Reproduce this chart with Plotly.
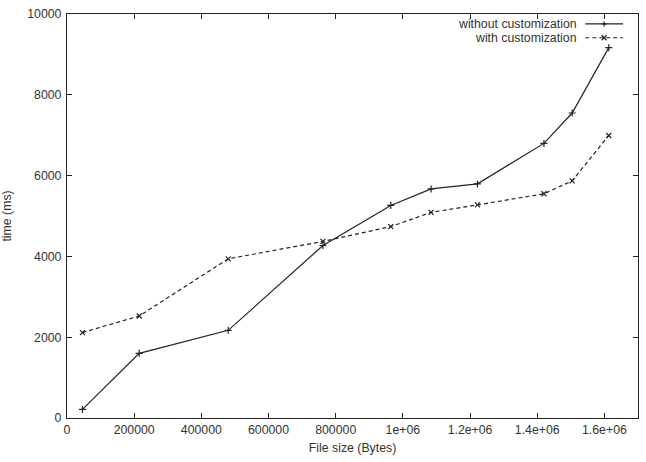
import plotly.graph_objects as go

file_size = [46000, 215000, 480000, 762000, 964000, 1084000, 1222000, 1420000, 1504000, 1613000]
time_without = [213, 1600, 2170, 4270, 5262, 5670, 5795, 6797, 7549, 9167]
time_with = [2115, 2525, 3940, 4370, 4738, 5090, 5275, 5550, 5870, 6993]

x_tickvals = [0, 200000, 400000, 600000, 800000, 1000000, 1200000, 1400000, 1600000]
x_ticktext = ["0", "200000", "400000", "600000", "800000", "1e+06", "1.2e+06", "1.4e+06", "1.6e+06"]
y_tickvals = [0, 2000, 4000, 6000, 8000, 10000]
y_ticktext = ["0", "2000", "4000", "6000", "8000", "10000"]
series_names = ["without customization", "with customization"]

W, H = 646, 462
ML, MR, MT, MB = 65, 7, 10, 44
PW, PH = W - ML - MR, H - MT - MB

FONT = "Liberation Sans, Arial, sans-serif"
FS = 12.3
LC = "#222222"
TC = "#333333"

fig = go.Figure()
fig.add_trace(go.Scatter(
    x=file_size, y=time_without, mode="lines+markers", name=series_names[0],
    line=dict(color=LC, width=1.2),
    marker=dict(symbol="cross-thin", size=5, line=dict(color=LC, width=1.2)),
    showlegend=False))
fig.add_trace(go.Scatter(
    x=file_size, y=time_with, mode="lines+markers", name=series_names[1],
    line=dict(color=LC, width=1.2, dash="4px,3px"),
    marker=dict(symbol="x-thin", size=5, line=dict(color=LC, width=1.2)),
    showlegend=False))

def px2paper(px, py):
    return (px - ML) / PW, (H - MB - py) / PH

shapes = []
annotations = []
rows = [(20, "solid", "plus"), (34, "dash", "x")]
for (py, dash, mk), name in zip(rows, series_names):
    x0, y0 = px2paper(586, py)
    x1, _ = px2paper(624, py)
    shapes.append(dict(type="line", xref="paper", yref="paper", x0=x0, x1=x1, y0=y0, y1=y0,
                       line=dict(color=LC, width=1.2, dash="solid" if dash == "solid" else "4px,3px")))
    cx, cy = 605, py
    r = 2.5
    if mk == "plus":
        segs = [((cx - r, cy), (cx + r, cy)), ((cx, cy - r), (cx, cy + r))]
    else:
        segs = [((cx - r, cy - r), (cx + r, cy + r)), ((cx - r, cy + r), (cx + r, cy - r))]
    for (ax, ay), (bx, by) in segs:
        a = px2paper(ax, ay)
        b = px2paper(bx, by)
        shapes.append(dict(type="line", xref="paper", yref="paper", x0=a[0], y0=a[1], x1=b[0], y1=b[1],
                           line=dict(color=LC, width=1.2)))
    tx, ty = px2paper(579, py)
    annotations.append(dict(text=name, xref="paper", yref="paper", x=tx, y=ty, xanchor="right",
                            yanchor="middle", showarrow=False, borderpad=0,
                            font=dict(family=FONT, size=FS, color=TC)))

axis_common = dict(showline=True, linecolor="#222", linewidth=1.2, mirror="allticks", ticks="inside",
                   ticklen=5, tickcolor="#222", tickwidth=1, showgrid=False, zeroline=False,
                   tickfont=dict(family=FONT, size=FS, color=TC))

fig.update_layout(
    width=W, height=H, margin=dict(l=ML, r=MR, t=MT, b=MB),
    paper_bgcolor="white", plot_bgcolor="white",
    xaxis=dict(range=[0, 1700000], tickvals=x_tickvals, ticktext=x_ticktext,
               title=dict(text="File size (Bytes)", font=dict(family=FONT, size=FS, color=TC), standoff=7),
               **axis_common),
    yaxis=dict(range=[0, 10000], tickvals=y_tickvals, ticktext=y_ticktext, ticklabelstandoff=2,
               title=dict(text="time (ms)", font=dict(family=FONT, size=FS, color=TC), standoff=12),
               **axis_common),
    shapes=shapes, annotations=annotations,
)
fig.write_html("out.html")
